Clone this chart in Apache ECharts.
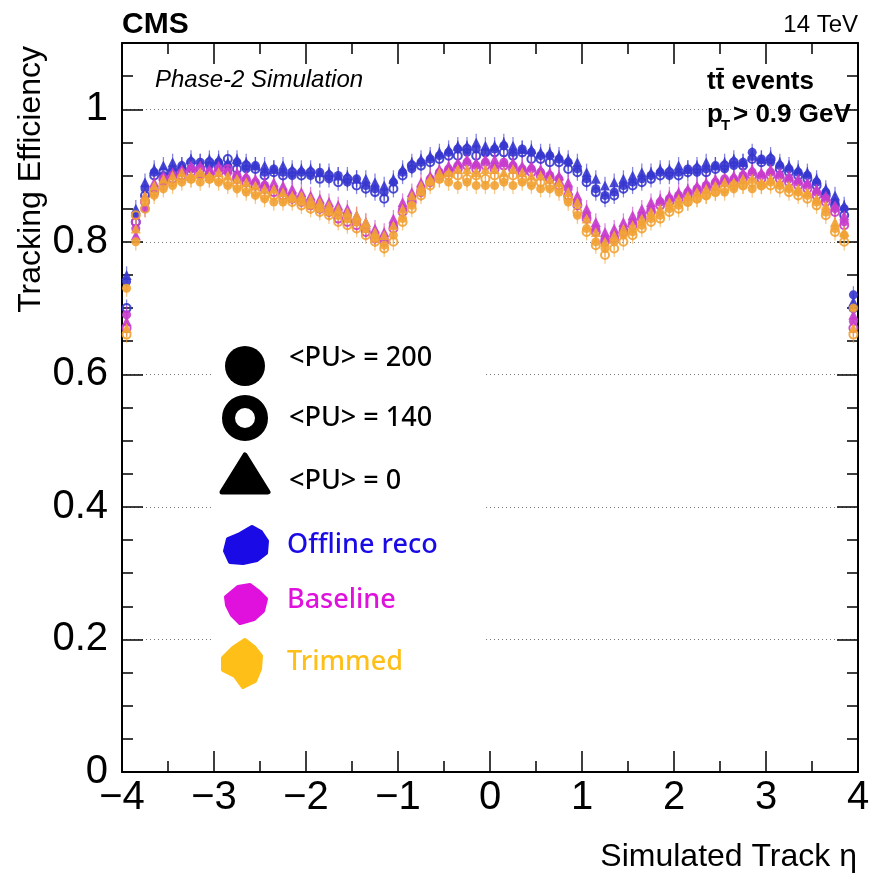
<!DOCTYPE html>
<html>
<head>
<meta charset="utf-8">
<title>Tracking efficiency vs simulated track eta</title>
<script src="https://cdn.jsdelivr.net/npm/echarts@6/dist/echarts.min.js"></script>
<style>
html, body { margin: 0; padding: 0; background: #fff; }
#chart { width: 869px; height: 873px; }
</style>
</head>
<body>
<div id="chart"></div>
<script>
// bin centres (simulated track eta), 0.1 wide bins
const ETA = [
    -3.95, -3.85, -3.75, -3.65, -3.55, -3.45, -3.35, -3.25, -3.15, -3.05,
    -2.95, -2.85, -2.75, -2.65, -2.55, -2.45, -2.35, -2.25, -2.15, -2.05,
    -1.95, -1.85, -1.75, -1.65, -1.55, -1.45, -1.35, -1.25, -1.15, -1.05,
    -0.95, -0.85, -0.75, -0.65, -0.55, -0.45, -0.35, -0.25, -0.15, -0.05,
    0.05, 0.15, 0.25, 0.35, 0.45, 0.55, 0.65, 0.75, 0.85, 0.95,
    1.05, 1.15, 1.25, 1.35, 1.45, 1.55, 1.65, 1.75, 1.85, 1.95,
    2.05, 2.15, 2.25, 2.35, 2.45, 2.55, 2.65, 2.75, 2.85, 2.95,
    3.05, 3.15, 3.25, 3.35, 3.45, 3.55, 3.65, 3.75, 3.85, 3.95,
]

// Offline reco
const OFFLINE_PU200 = [
    0.74, 0.84, 0.88, 0.905, 0.90, 0.91, 0.915, 0.91, 0.92, 0.915,
    0.92, 0.915, 0.92, 0.91, 0.915, 0.905, 0.91, 0.905, 0.90, 0.905,
    0.90, 0.905, 0.895, 0.90, 0.89, 0.895, 0.885, 0.88, 0.875, 0.89,
    0.905, 0.91, 0.92, 0.925, 0.93, 0.935, 0.94, 0.935, 0.94, 0.935,
    0.94, 0.945, 0.935, 0.94, 0.935, 0.93, 0.93, 0.925, 0.92, 0.91,
    0.895, 0.88, 0.87, 0.875, 0.885, 0.89, 0.895, 0.90, 0.905, 0.90,
    0.905, 0.91, 0.905, 0.91, 0.915, 0.91, 0.915, 0.92, 0.935, 0.925,
    0.92, 0.915, 0.91, 0.905, 0.90, 0.89, 0.875, 0.86, 0.85, 0.72,
]
const OFFLINE_PU140 = [
    0.70, 0.83, 0.87, 0.90, 0.905, 0.905, 0.91, 0.92, 0.91, 0.92,
    0.915, 0.925, 0.91, 0.915, 0.91, 0.90, 0.905, 0.90, 0.905, 0.90,
    0.905, 0.895, 0.90, 0.89, 0.895, 0.885, 0.88, 0.875, 0.865, 0.88,
    0.90, 0.915, 0.915, 0.92, 0.925, 0.93, 0.93, 0.94, 0.93, 0.935,
    0.935, 0.935, 0.93, 0.935, 0.925, 0.925, 0.92, 0.92, 0.91, 0.905,
    0.89, 0.875, 0.865, 0.87, 0.88, 0.885, 0.89, 0.895, 0.90, 0.905,
    0.90, 0.905, 0.91, 0.905, 0.91, 0.915, 0.92, 0.915, 0.925, 0.92,
    0.925, 0.91, 0.905, 0.90, 0.895, 0.885, 0.87, 0.855, 0.84, 0.70,
]
const OFFLINE_PU0 = [
    0.75, 0.85, 0.89, 0.91, 0.915, 0.92, 0.915, 0.925, 0.92, 0.925,
    0.925, 0.92, 0.925, 0.92, 0.915, 0.915, 0.91, 0.915, 0.91, 0.91,
    0.91, 0.905, 0.905, 0.90, 0.90, 0.895, 0.895, 0.89, 0.885, 0.895,
    0.91, 0.92, 0.925, 0.93, 0.935, 0.94, 0.945, 0.945, 0.95, 0.945,
    0.945, 0.95, 0.945, 0.94, 0.94, 0.935, 0.935, 0.93, 0.925, 0.92,
    0.905, 0.895, 0.885, 0.89, 0.895, 0.90, 0.905, 0.905, 0.91, 0.91,
    0.915, 0.91, 0.915, 0.92, 0.915, 0.92, 0.925, 0.92, 0.93, 0.925,
    0.93, 0.92, 0.915, 0.91, 0.905, 0.895, 0.88, 0.87, 0.855, 0.71,
]

// Baseline
const BASELINE_PU200 = [
    0.69, 0.82, 0.85, 0.88, 0.89, 0.90, 0.905, 0.91, 0.90, 0.905,
    0.91, 0.905, 0.90, 0.895, 0.89, 0.885, 0.88, 0.875, 0.87, 0.865,
    0.86, 0.855, 0.85, 0.845, 0.84, 0.83, 0.82, 0.81, 0.805, 0.825,
    0.85, 0.865, 0.88, 0.895, 0.905, 0.91, 0.915, 0.92, 0.915, 0.92,
    0.915, 0.92, 0.915, 0.91, 0.91, 0.905, 0.90, 0.895, 0.88, 0.86,
    0.84, 0.82, 0.805, 0.81, 0.82, 0.83, 0.84, 0.85, 0.86, 0.865,
    0.87, 0.875, 0.88, 0.885, 0.89, 0.895, 0.895, 0.90, 0.905, 0.90,
    0.905, 0.90, 0.895, 0.89, 0.885, 0.875, 0.865, 0.85, 0.83, 0.68,
]
const BASELINE_PU140 = [
    0.67, 0.83, 0.86, 0.875, 0.895, 0.895, 0.90, 0.905, 0.91, 0.90,
    0.905, 0.91, 0.895, 0.89, 0.885, 0.88, 0.875, 0.87, 0.865, 0.86,
    0.855, 0.85, 0.845, 0.835, 0.83, 0.825, 0.815, 0.805, 0.80, 0.82,
    0.845, 0.86, 0.875, 0.89, 0.90, 0.905, 0.91, 0.915, 0.91, 0.915,
    0.91, 0.915, 0.91, 0.905, 0.905, 0.90, 0.895, 0.885, 0.87, 0.855,
    0.835, 0.815, 0.80, 0.805, 0.815, 0.825, 0.835, 0.845, 0.855, 0.86,
    0.865, 0.87, 0.875, 0.88, 0.885, 0.89, 0.89, 0.895, 0.90, 0.895,
    0.90, 0.895, 0.89, 0.885, 0.88, 0.87, 0.86, 0.845, 0.825, 0.67,
]
const BASELINE_PU0 = [
    0.68, 0.81, 0.87, 0.89, 0.90, 0.905, 0.91, 0.915, 0.915, 0.91,
    0.915, 0.91, 0.905, 0.90, 0.895, 0.89, 0.89, 0.885, 0.88, 0.875,
    0.87, 0.865, 0.86, 0.855, 0.85, 0.84, 0.83, 0.82, 0.815, 0.835,
    0.86, 0.875, 0.89, 0.90, 0.91, 0.915, 0.92, 0.925, 0.92, 0.925,
    0.925, 0.92, 0.92, 0.915, 0.915, 0.91, 0.905, 0.90, 0.89, 0.87,
    0.85, 0.83, 0.815, 0.82, 0.83, 0.84, 0.85, 0.86, 0.865, 0.87,
    0.875, 0.88, 0.885, 0.89, 0.895, 0.895, 0.90, 0.905, 0.91, 0.905,
    0.91, 0.905, 0.90, 0.895, 0.89, 0.88, 0.87, 0.855, 0.84, 0.69,
]

// Trimmed
const TRIMMED_PU200 = [
    0.73, 0.80, 0.86, 0.87, 0.88, 0.885, 0.89, 0.895, 0.89, 0.895,
    0.89, 0.885, 0.88, 0.875, 0.87, 0.865, 0.86, 0.86, 0.865, 0.86,
    0.855, 0.85, 0.845, 0.84, 0.835, 0.83, 0.82, 0.805, 0.795, 0.81,
    0.835, 0.855, 0.875, 0.89, 0.895, 0.89, 0.885, 0.89, 0.885, 0.885,
    0.885, 0.89, 0.885, 0.89, 0.885, 0.88, 0.88, 0.875, 0.86, 0.84,
    0.82, 0.80, 0.79, 0.80, 0.81, 0.815, 0.825, 0.835, 0.84, 0.85,
    0.855, 0.86, 0.865, 0.87, 0.875, 0.875, 0.88, 0.885, 0.88, 0.885,
    0.89, 0.885, 0.88, 0.875, 0.87, 0.86, 0.845, 0.82, 0.81, 0.70,
]
const TRIMMED_PU140 = [
    0.66, 0.84, 0.85, 0.875, 0.885, 0.89, 0.895, 0.895, 0.90, 0.895,
    0.895, 0.89, 0.885, 0.88, 0.875, 0.87, 0.87, 0.865, 0.86, 0.855,
    0.85, 0.845, 0.84, 0.83, 0.825, 0.82, 0.81, 0.80, 0.79, 0.80,
    0.83, 0.85, 0.87, 0.885, 0.895, 0.90, 0.90, 0.895, 0.90, 0.895,
    0.90, 0.895, 0.90, 0.895, 0.89, 0.89, 0.885, 0.88, 0.865, 0.845,
    0.815, 0.795, 0.78, 0.79, 0.80, 0.81, 0.82, 0.83, 0.835, 0.845,
    0.85, 0.86, 0.865, 0.87, 0.875, 0.88, 0.885, 0.885, 0.89, 0.885,
    0.885, 0.88, 0.875, 0.87, 0.865, 0.855, 0.84, 0.815, 0.80, 0.66,
]
const TRIMMED_PU0 = [
    0.67, 0.82, 0.87, 0.885, 0.895, 0.90, 0.905, 0.90, 0.905, 0.90,
    0.905, 0.90, 0.895, 0.89, 0.885, 0.88, 0.88, 0.875, 0.87, 0.87,
    0.865, 0.86, 0.855, 0.85, 0.845, 0.84, 0.83, 0.815, 0.81, 0.825,
    0.85, 0.87, 0.885, 0.895, 0.905, 0.905, 0.91, 0.91, 0.905, 0.91,
    0.91, 0.905, 0.91, 0.905, 0.90, 0.90, 0.895, 0.89, 0.875, 0.86,
    0.835, 0.815, 0.80, 0.81, 0.82, 0.825, 0.835, 0.845, 0.85, 0.86,
    0.865, 0.87, 0.875, 0.88, 0.885, 0.89, 0.89, 0.895, 0.895, 0.89,
    0.895, 0.89, 0.885, 0.88, 0.875, 0.865, 0.855, 0.83, 0.815, 0.67,
]

// half size of the vertical error bars
const ERR = 0.013

const FONT = "'Liberation Sans', Arial, Helvetica, sans-serif"
const LEGEND_FONT = "'Noto Sans', Lato, sans-serif"
const BLUE = "#3636cf"
const MAGENTA = "#c83ccc"
const ORANGE = "#f2a234"

function pairs(vals) {
    return ETA.map((e, i) => [e, vals[i]])
}

function errBars(vals, color) {
    return {
        type: "custom",
        silent: true,
        z: 1,
        renderItem: (params, api) => {
            const lo = api.coord([api.value(0), api.value(1) - ERR])
            const hi = api.coord([api.value(0), api.value(1) + ERR])
            return {
                type: "line",
                shape: { x1: lo[0], y1: lo[1], x2: hi[0], y2: hi[1] },
                style: { stroke: color, lineWidth: 1.3, opacity: 0.6 },
            }
        },
        data: pairs(vals),
    }
}

function markers(vals, color, kind) {
    const s = {
        type: "scatter",
        silent: true,
        z: 3,
        data: pairs(vals),
        symbol: "circle",
        symbolSize: 9,
        itemStyle: { color: color, opacity: 0.9 },
    }
    if (kind === "open") {
        s.symbolSize = 8
        s.itemStyle = { color: "rgba(255,255,255,0)", borderColor: color, borderWidth: 2, opacity: 0.9 }
    } else if (kind === "tri") {
        s.symbol = "triangle"
        s.symbolSize = 10
    }
    return s
}

const groups = [
    [OFFLINE_PU200, BLUE, "fill"], [OFFLINE_PU140, BLUE, "open"], [OFFLINE_PU0, BLUE, "tri"],
    [BASELINE_PU200, MAGENTA, "fill"], [BASELINE_PU140, MAGENTA, "open"], [BASELINE_PU0, MAGENTA, "tri"],
    [TRIMMED_PU200, ORANGE, "fill"], [TRIMMED_PU140, ORANGE, "open"], [TRIMMED_PU0, ORANGE, "tri"],
]
const series = []
groups.forEach(g => series.push(errBars(g[0], g[1])))
groups.forEach(g => series.push(markers(g[0], g[1], g[2])))

const frameLine = { onZero: false, lineStyle: { color: "#000", width: 2 } }
const noLine = { show: false, onZero: false }
const tickStyle = { color: "#000", width: 1.5 }

function xAxis(pos, showLabel) {
    return {
        type: "value",
        position: pos,
        min: -4,
        max: 4,
        interval: 1,
        axisLine: frameLine,
        axisTick: { inside: true, length: 21, lineStyle: tickStyle },
        minorTick: { show: true, splitNumber: 2, length: 11, lineStyle: tickStyle },
        axisLabel: {
            show: showLabel,
            fontFamily: FONT,
            fontSize: 40,
            color: "#000",
            margin: 6,
            formatter: v => (v < 0 ? "\u2212" + Math.abs(v) : String(v)),
        },
        splitLine: { show: false },
    }
}

function yAxis(pos, major) {
    return {
        type: "value",
        position: pos,
        min: 0,
        max: 1.1,
        interval: major ? 0.2 : 0.05,
        axisLine: major ? frameLine : noLine,
        axisTick: { inside: true, length: major ? 21 : 11, lineStyle: tickStyle },
        axisLabel: {
            show: major && pos === "left",
            fontFamily: FONT,
            fontSize: 40,
            color: "#000",
            margin: 14,
            formatter: v => (v > 1.05 ? "" : String(+v.toFixed(1))),
        },
        splitLine: {
            show: major && pos === "left",
            lineStyle: { color: "#7a7a7a", type: [1, 3], width: 1 },
        },
    }
}

function txt(x, y, text, font, extra) {
    return {
        type: "text",
        x: x,
        y: y,
        z: 100,
        style: Object.assign({ text: text, font: font, fill: "#000", textVerticalAlign: "middle" }, extra || {}),
    }
}

function blob(cx, cy, pts, color) {
    return {
        type: "polygon",
        z: 100,
        shape: { points: pts.map(p => [cx + p[0], cy + p[1]]) },
        style: { fill: color, stroke: color, lineWidth: 4, lineJoin: "round" },
    }
}

const graphics = [
    txt(122, 25, "CMS", "bold 30px " + FONT),
    txt(858, 25, "14 TeV", "24px " + FONT, { textAlign: "right" }),
    txt(155, 80, "Phase-2 Simulation", "italic 24px " + FONT),
    txt(707, 82, "t\u0074\u0304 events", "bold 26px " + FONT),
    txt(707, 115, "p", "bold 26px " + FONT),
    txt(721, 126, "T", "bold 15px " + FONT),
    txt(733, 115, "> 0.9 GeV", "bold 26px " + FONT),
    {
        type: "text",
        x: 31,
        y: 46,
        z: 100,
        rotation: Math.PI / 2,
        style: { text: "Tracking Efficiency", font: "32px " + FONT, fill: "#000", textAlign: "right", textVerticalAlign: "middle" },
    },
    txt(857, 857, "Simulated Track \u03b7", "32px " + FONT, { textAlign: "right" }),

    // legend box
    { type: "rect", z: 90, shape: { x: 213, y: 332, width: 272, height: 362 }, style: { fill: "#fff" } },
    { type: "circle", z: 100, shape: { cx: 245, cy: 366, r: 20 }, style: { fill: "#000" } },
    { type: "circle", z: 100, shape: { cx: 245, cy: 418, r: 16.5 }, style: { fill: "none", stroke: "#000", lineWidth: 13 } },
    {
        type: "polygon",
        z: 100,
        shape: { points: [[245, 455], [268, 492], [222, 492]] },
        style: { fill: "#000", stroke: "#000", lineWidth: 5, lineJoin: "round" },
    },
    txt(289, 358, "<PU> = 200", "500 27px " + LEGEND_FONT),
    txt(289, 418, "<PU> = 140", "500 27px " + LEGEND_FONT),
    txt(289, 481, "<PU> = 0", "500 27px " + LEGEND_FONT),
    blob(246, 547, [[-21, 4], [-18, -8], [-6, -13], [6, -20], [15, -15], [21, -6], [20, 6], [11, 13], [-3, 16], [-16, 15]], "#1a0be6"),
    blob(246, 603, [[-20, -6], [-8, -16], [4, -18], [12, -12], [20, -4], [17, 8], [8, 16], [-6, 20], [-14, 12], [-19, 2]], "#e011dd"),
    blob(243, 662, [[-20, -4], [-10, -14], [2, -22], [11, -15], [18, -6], [17, 7], [12, 19], [0, 25], [-8, 14], [-20, 8]], "#fdbf18"),
    txt(287, 545, "Offline reco", "500 27px " + LEGEND_FONT, { fill: "#1a0be6" }),
    txt(287, 600, "Baseline", "500 27px " + LEGEND_FONT, { fill: "#e011dd" }),
    txt(287, 662, "Trimmed", "500 27px " + LEGEND_FONT, { fill: "#fdbf18" }),
]

function initChart() {
    const myChart = echarts.init(document.getElementById("chart"))
    myChart.setOption({
        backgroundColor: "#fff",
        animation: false,
        grid: { left: 122, right: 11, top: 43, bottom: 101, outerBoundsMode: "none" },
        xAxis: [xAxis("bottom", true), xAxis("top", false)],
        yAxis: [yAxis("left", true), yAxis("left", false), yAxis("right", true), yAxis("right", false)],
        graphic: graphics,
        series: series,
    })
}
initChart()
</script>
</body>
</html>
